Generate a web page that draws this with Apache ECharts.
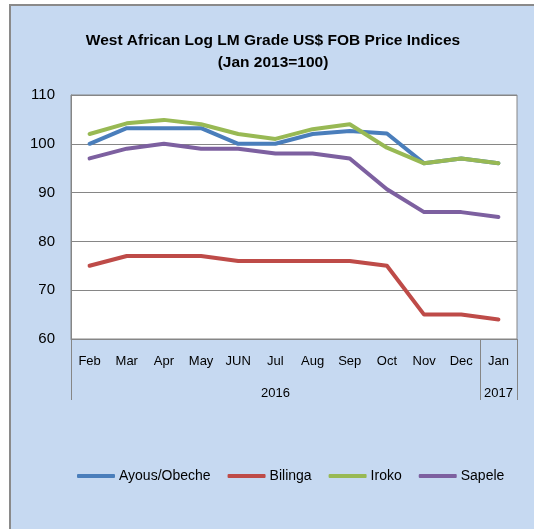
<!DOCTYPE html>
<html><head><meta charset="utf-8">
<script src="https://cdn.jsdelivr.net/npm/echarts@6/dist/echarts.min.js"></script>
<style>html,body{margin:0;padding:0;background:#fff}#c{width:534px;height:529px}</style>
</head><body><div id="c"></div>
<script>
var months = ["Feb","Mar","Apr","May","JUN","Jul","Aug","Sep","Oct","Nov","Dec","Jan"];
var yearLabels = ["2016","2017"];
var yearSpans = [11, 1];
var ayous  = [100,103.2,103.2,103.2,100,100,102,102.6,102.1,96,97,96];
var bilinga = [75,77,77,77,76,76,76,76,75,65,65,64];
var iroko  = [102,104.2,104.9,104,102,101,103,104,99.2,96,97,96];
var sapele = [97,99,100,99,99,98,98,97,90.7,86,86,85];

var bounds = [0], centers = [], acc = 0;
yearSpans.forEach(function(s){ centers.push(acc + s/2); acc += s; bounds.push(acc); });

var FONT = "Liberation Sans";
function ser(name, data, color){
  return {name:name, type:'line', data:data, symbol:'none', smooth:false,
    lineStyle:{width:4, color:color, cap:'round', join:'round'}, itemStyle:{color:color}};
}
var chart = echarts.init(document.getElementById('c'));
chart.setOption({
  animation:false,
  backgroundColor:'#fff',
  textStyle:{fontFamily:FONT},
  graphic:[{type:'rect', z:-100, shape:{x:10,y:5,width:530,height:530},
    style:{fill:'#C6D9F1', stroke:'#8a8a8a', lineWidth:2}}],
  title:{text:'West African Log LM Grade US$ FOB Price Indices\n(Jan 2013=100)',
    left:268, top:25, textAlign:'center',
    textStyle:{fontFamily:FONT, fontWeight:'bold', fontSize:15.5, color:'#000', lineHeight:22}},
  legend:{bottom:41, left:72, itemWidth:38, itemHeight:4, itemGap:17, icon:'roundRect',
    textStyle:{fontSize:14, color:'#000', fontFamily:FONT, padding:[0,0,0,-1]},
    data:['Ayous/Obeche','Bilinga','Iroko','Sapele']},
  grid:{left:71, right:17, top:95, bottom:190, show:true, backgroundColor:'#fff', borderColor:'#868686', borderWidth:1},
  xAxis:[{type:'category', data:months, boundaryGap:true,
      axisLine:{lineStyle:{color:'#868686'}}, axisTick:{show:false},
      axisLabel:{fontSize:13, color:'#000', margin:16, fontFamily:FONT}},
    {type:'value', min:0, max:12, position:'bottom', gridIndex:0,
      axisLine:{show:false}, splitLine:{show:false},
      axisTick:{show:true, customValues:bounds, length:61, lineStyle:{color:'#868686'}},
      axisLabel:{customValues:centers, margin:48, fontSize:13, color:'#000', fontFamily:FONT,
        formatter:function(v){ var i = centers.indexOf(v); return i>=0 ? yearLabels[i] : ''; }}}],
  yAxis:{type:'value', min:60, max:110, interval:10,
    axisLine:{show:true, lineStyle:{color:'#868686'}}, axisTick:{show:false},
    splitLine:{lineStyle:{color:'#868686'}},
    axisLabel:{fontSize:15, color:'#000', margin:16, fontFamily:FONT}},
  series:[ser('Ayous/Obeche', ayous, '#4A7EBB'), ser('Bilinga', bilinga, '#BE4B48'),
    ser('Iroko', iroko, '#98B954'), ser('Sapele', sapele, '#7D60A0')]
});
</script></body></html>
